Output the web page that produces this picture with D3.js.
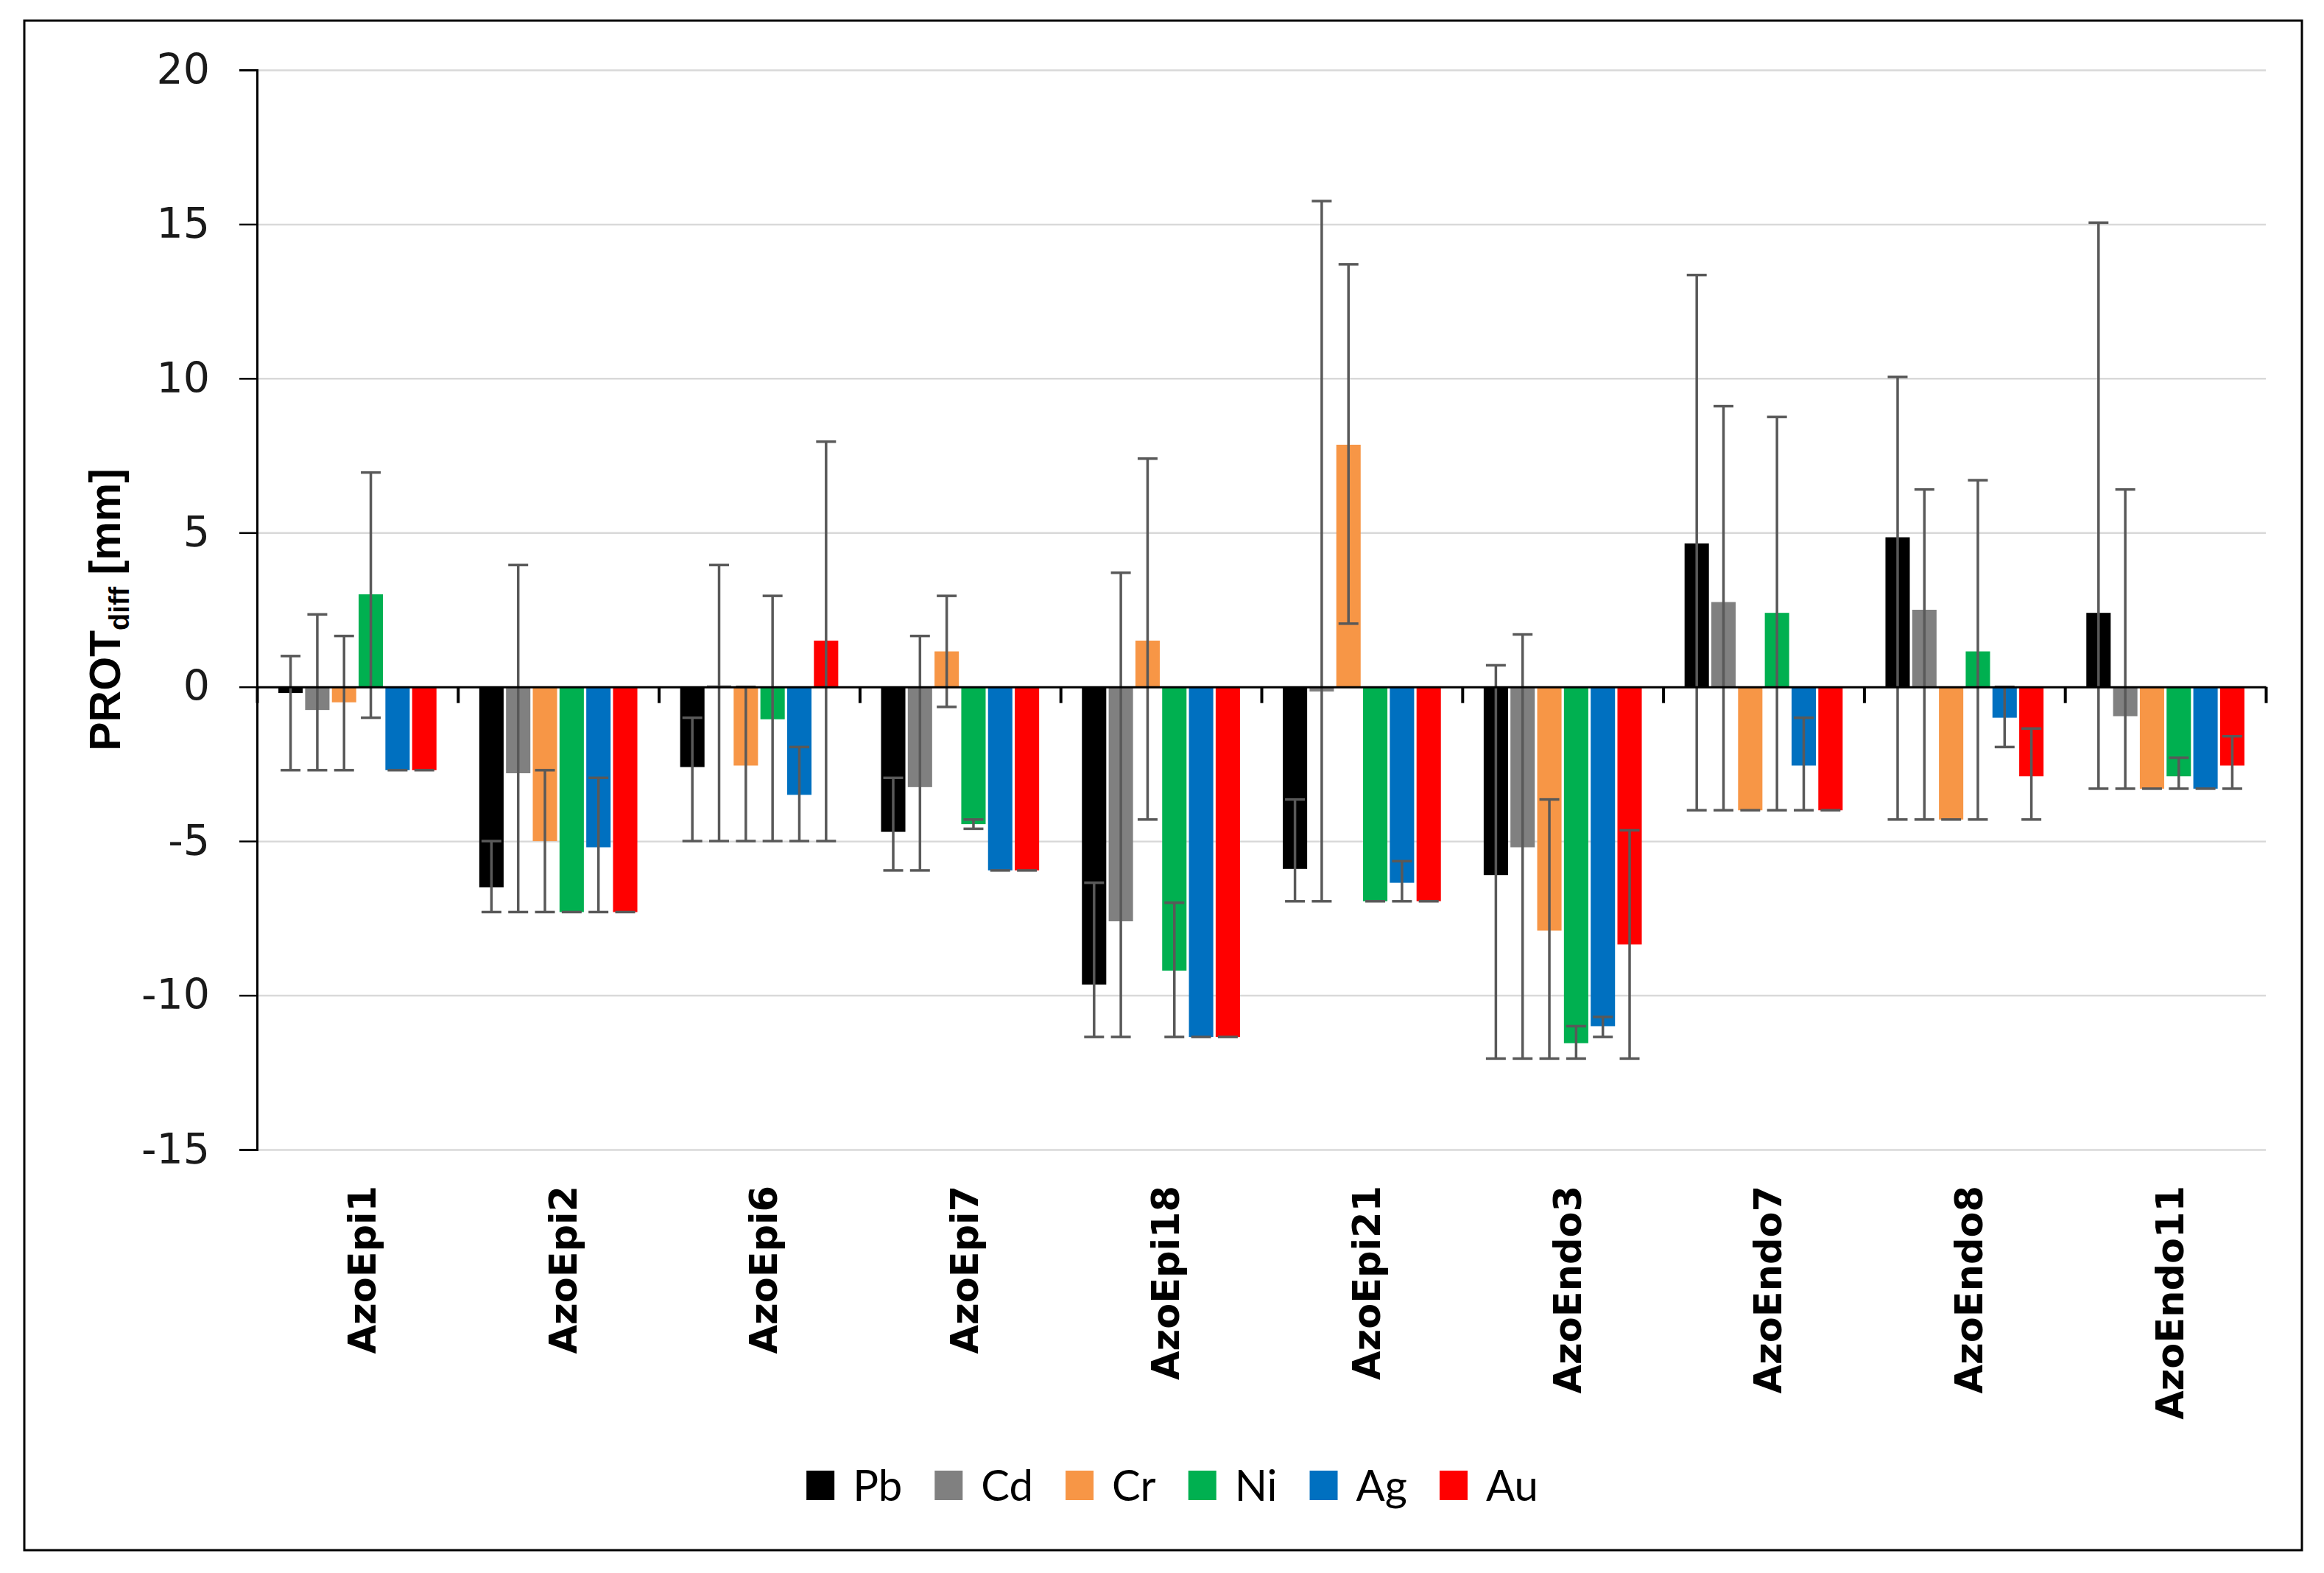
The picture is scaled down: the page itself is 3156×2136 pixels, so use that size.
<!DOCTYPE html>
<html lang="en">
<head>
    <meta charset="UTF-8">
    <title>PROTdiff by sample and metal</title>
    <script src="https://d3js.org/d3.v7.min.js"></script>
    <style>
        body { margin: 0; background: #fff; }
        svg { display: block; }
        .y-axis text { font-family: "DejaVu Sans", sans-serif; font-size: 57px; fill: #1a1a1a; }
        .cat-label { font-family: "DejaVu Sans", sans-serif; font-weight: bold; font-size: 51px; fill: #000; }
        .y-title { font-family: "Liberation Sans", Arial, sans-serif; font-weight: bold; font-size: 59px; fill: #000; }
        .legend text { font-family: Lato, "Open Sans", sans-serif; font-size: 58px; fill: #000; }
    </style>
</head>
<body>
<svg id="chart"></svg>
<script>
    // categories and series
    const categories = ["AzoEpi1", "AzoEpi2", "AzoEpi6", "AzoEpi7", "AzoEpi18", "AzoEpi21", "AzoEndo3", "AzoEndo7", "AzoEndo8", "AzoEndo11"];
    const metals = ["Pb", "Cd", "Cr", "Ni", "Ag", "Au"];
    const metalColors = ["#000000", "#808080", "#f79646", "#00b050", "#0070c0", "#ff0000"];
    const yTicks = [-15, -10, -5, 0, 5, 10, 15, 20];

    // bar values (mm), one array per metal, in category order
    const pbValues = [-0.2, -6.5, -2.6, -4.7, -9.65, -5.9, -6.1, 4.65, 4.85, 2.4];
    const cdValues = [-0.75, -2.8, 0.05, -3.25, -7.6, -0.15, -5.2, 2.75, 2.5, -0.95];
    const crValues = [-0.5, -5.0, -2.55, 1.15, 1.5, 7.85, -7.9, -4.0, -4.3, -3.3];
    const niValues = [3.0, -7.3, -1.05, -4.45, -9.2, -6.95, -11.55, 2.4, 1.15, -2.9];
    const agValues = [-2.7, -5.2, -3.5, -5.95, -11.35, -6.35, -11.0, -2.55, -1.0, -3.3];
    const auValues = [-2.7, -7.3, 1.5, -5.95, -11.35, -6.95, -8.35, -4.0, -2.9, -2.55];

    // upper end of the error bars
    const pbHigh = [1.0, -5.0, -1.0, -2.95, -6.35, -3.65, 0.7, 13.35, 10.05, 15.05];
    const cdHigh = [2.35, 3.95, 3.95, 1.65, 3.7, 15.75, 1.7, 9.1, 6.4, 6.4];
    const crHigh = [1.65, -2.7, 0, 2.95, 7.4, 13.7, -3.65, -4.0, -4.3, -3.3];
    const niHigh = [6.95, -7.3, 2.95, -4.3, -7.0, -6.95, -11.0, 8.75, 6.7, -2.3];
    const agHigh = [-2.7, -2.95, -1.95, -5.95, -11.35, -5.65, -10.7, -1.0, 0, -3.3];
    const auHigh = [-2.7, -7.3, 7.95, -5.95, -11.35, -6.95, -4.65, -4.0, -1.35, -1.6];

    // lower end of the error bars
    const pbLow = [-2.7, -7.3, -5.0, -5.95, -11.35, -6.95, -12.05, -4.0, -4.3, -3.3];
    const cdLow = [-2.7, -7.3, -5.0, -5.95, -11.35, -6.95, -12.05, -4.0, -4.3, -3.3];
    const crLow = [-2.7, -7.3, -5.0, -0.65, -4.3, 2.05, -12.05, -4.0, -4.3, -3.3];
    const niLow = [-1.0, -7.3, -5.0, -4.6, -11.35, -6.95, -12.05, -4.0, -4.3, -3.3];
    const agLow = [-2.7, -7.3, -5.0, -5.95, -11.35, -6.95, -11.35, -4.0, -1.95, -3.3];
    const auLow = [-2.7, -7.3, -5.0, -5.95, -11.35, -6.95, -12.05, -4.0, -4.3, -3.3];

    const values = [pbValues, cdValues, crValues, niValues, agValues, auValues];
    const highs = [pbHigh, cdHigh, crHigh, niHigh, agHigh, auHigh];
    const lows = [pbLow, cdLow, crLow, niLow, agLow, auLow];

    // flat table for drawing
    const rows = [];
    categories.forEach((cat, ci) => {
        metals.forEach((m, mi) => {
            rows.push({ cat: cat, metal: m, color: metalColors[mi],
                value: values[mi][ci], hi: highs[mi][ci], lo: lows[mi][ci] });
        });
    });

    // Chart setup
    const width = 3156, height = 2136;
    const margin = { top: 95, right: 79, bottom: 575, left: 349 };
    const innerRight = width - margin.right;
    const innerBottom = height - margin.bottom;

    const svg = d3.select("#chart").attr("width", width).attr("height", height);

    svg.append("rect")
        .attr("x", 33).attr("y", 28)
        .attr("width", 3093).attr("height", 2077)
        .attr("fill", "#fff").attr("stroke", "#000").attr("stroke-width", 3);

    const y = d3.scaleLinear().domain([-15, 20]).range([innerBottom, margin.top]);
    const x0 = d3.scaleBand().domain(categories).range([margin.left, innerRight]).padding(0);
    const x1 = d3.scaleBand().domain(metals).range([0, x0.bandwidth()])
        .paddingInner(0.09).paddingOuter(0.8);
    const xEdge = d3.scaleLinear().domain([0, categories.length]).range([margin.left, innerRight]);

    // gridlines
    svg.append("g")
        .attr("transform", `translate(${margin.left},0)`)
        .call(d3.axisLeft(y).tickValues(yTicks.filter(t => t !== 0))
            .tickSize(-(innerRight - margin.left)).tickFormat(""))
        .call(g => g.select(".domain").remove())
        .call(g => g.selectAll("line").attr("stroke", "#d9d9d9").attr("stroke-width", 2.5));

    // bars
    svg.append("g").selectAll("rect")
        .data(rows)
        .enter()
        .append("rect")
        .attr("x", d => x0(d.cat) + x1(d.metal))
        .attr("width", x1.bandwidth())
        .attr("y", d => y(Math.max(0, d.value)))
        .attr("height", d => Math.abs(y(d.value) - y(0)))
        .attr("fill", d => d.color);

    // error bars
    const capW = 27;
    const err = svg.append("g")
        .attr("stroke", "#595959").attr("stroke-width", 3.5)
        .selectAll("g")
        .data(rows)
        .enter()
        .append("g")
        .attr("transform", d => `translate(${x0(d.cat) + x1(d.metal) + x1.bandwidth() / 2},0)`);

    err.filter(d => d.hi !== d.lo).append("line")
        .attr("y1", d => y(d.hi)).attr("y2", d => y(d.lo));
    err.append("line")
        .attr("x1", -capW / 2).attr("x2", capW / 2)
        .attr("y1", d => y(d.hi)).attr("y2", d => y(d.hi));
    err.filter(d => d.hi !== d.lo).append("line")
        .attr("x1", -capW / 2).attr("x2", capW / 2)
        .attr("y1", d => y(d.lo)).attr("y2", d => y(d.lo));

    // y axis
    svg.append("g")
        .attr("class", "y-axis")
        .attr("transform", `translate(${margin.left},0)`)
        .call(d3.axisLeft(y).tickValues(yTicks).tickSize(24).tickPadding(40).tickFormat(d => String(d)))
        .call(g => g.select(".domain").attr("stroke", "#000").attr("stroke-width", 3))
        .call(g => g.selectAll(".tick line").attr("stroke", "#000").attr("stroke-width", 2.5));

    // x axis along zero, ticks between the categories
    svg.append("g")
        .attr("transform", `translate(0,${y(0)})`)
        .call(d3.axisBottom(xEdge).ticks(categories.length).tickSize(22).tickSizeOuter(0).tickFormat(""))
        .call(g => g.select(".domain").attr("stroke", "#000").attr("stroke-width", 3))
        .call(g => g.selectAll(".tick line").attr("stroke", "#000").attr("stroke-width", 4));

    // category labels, rotated
    svg.append("g").selectAll("text")
        .data(categories)
        .enter()
        .append("text")
        .attr("class", "cat-label")
        .attr("transform", d => `translate(${x0(d) + x0.bandwidth() / 2 + 6},1610) rotate(-90)`)
        .attr("text-anchor", "end")
        .attr("dy", "0.36em")
        .text(d => d);

    // y axis title
    const title = svg.append("text")
        .attr("class", "y-title")
        .attr("transform", `translate(163,${(margin.top + innerBottom) / 2}) rotate(-90)`)
        .attr("text-anchor", "middle");
    title.append("tspan").text("PROT");
    title.append("tspan").attr("font-size", "38px").attr("dy", 12).text("diff");
    title.append("tspan").attr("dy", -12).text(" [mm]");

    // legend
    const legend = svg.append("g").attr("class", "legend");
    let lx = 0;
    metals.forEach((m, i) => {
        const item = legend.append("g").attr("transform", `translate(${lx},0)`);
        item.append("rect").attr("x", 0).attr("y", -20).attr("width", 38).attr("height", 40)
            .attr("fill", metalColors[i]);
        const t = item.append("text").attr("x", 63).attr("y", 0).attr("dy", "0.36em").text(m);
        lx += 63 + t.node().getComputedTextLength() + 44;
    });
    const legendW = lx - 44;
    legend.attr("transform", `translate(${1592 - legendW / 2},2017)`);
</script>
</body>
</html>
